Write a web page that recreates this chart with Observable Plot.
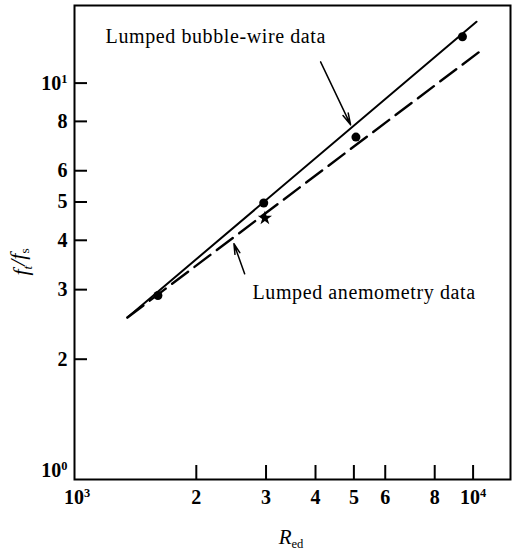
<!DOCTYPE html>
<html><head><meta charset="utf-8">
<script src="https://cdn.jsdelivr.net/npm/d3@7"></script>
<script src="https://cdn.jsdelivr.net/npm/@observablehq/plot@0.6"></script>
<style>body{margin:0;background:#fff}#chart svg{display:block}</style>
</head><body><div id="chart"></div>
<script>
// x ticks (R_ed) and labels
const xTickValues = [2000, 3000, 4000, 5000, 6000, 8000, 10000];
const xLabelValues = [1000, 2000, 3000, 4000, 5000, 6000, 8000, 10000];
const xLabelText = ["10^3", "2", "3", "4", "5", "6", "8", "10^4"];
// y ticks (f_t/f_s) and labels
const yTickValues = [2, 3, 4, 5, 6, 8, 10];
const yLabelValues = [2, 3, 4, 5, 6, 8, 10];
const yLabelText = ["2", "3", "4", "5", "6", "8", "10^1"];
const yBottomLabelValue = [1];
const yBottomLabelText = ["10^0"];

// fitted lines
const bubbleLineX = [1340, 10200];
const bubbleLineY = [2.55, 14.3];
const anemLineX = [1340, 10600];
const anemLineY = [2.55, 12.2];

// data points
const bubblePointX = [1600, 2960, 5060, 9400];
const bubblePointY = [2.9, 4.97, 7.3, 13.1];
const anemPointX = [2980];
const anemPointY = [4.55];

// annotations
const noteText = ["Lumped bubble-wire data", "Lumped anemometry data"];
const noteX = [1180, 2773];
const noteY = [13.1, 2.95];
const arrowX1 = [4120, 2649];
const arrowY1 = [11.32, 3.29];
const arrowX2 = [4906, 2489];
const arrowY2 = [7.84, 3.92];

const bubbleLine = bubbleLineX.map((x, i) => ({x, y: bubbleLineY[i]}));
const anemLine = anemLineX.map((x, i) => ({x, y: anemLineY[i]}));
const bubblePts = bubblePointX.map((x, i) => ({x, y: bubblePointY[i]}));
const anemPts = anemPointX.map((x, i) => ({x, y: anemPointY[i]}));
const notes = noteText.map((t, i) => ({t, x: noteX[i], y: noteY[i]}));
const arrows = arrowX1.map((x1, i) => ({x1, y1: arrowY1[i], x2: arrowX2[i], y2: arrowY2[i]}));

const W = 514, H = 552;
const mL = 74, mR = 4, mT = 5, mB = 73;
const pw = W - mL - mR, ph = H - mT - mB;

const serif = "'Liberation Serif', 'DejaVu Serif', serif";

const chart = Plot.plot({
  width: W, height: H,
  marginLeft: mL, marginRight: mR, marginTop: mT, marginBottom: mB,
  style: {fontFamily: serif, fontSize: "20px", color: "black", background: "white"},
  x: {type: "log", domain: [985, 12430], axis: null},
  y: {type: "log", domain: [0.992, 15.72], axis: null},
  marks: [
    Plot.frame({stroke: "black", strokeWidth: 2}),
    Plot.tickX(xTickValues, {x: d => d, stroke: "black", strokeWidth: 2, insetTop: ph - 14}),
    Plot.tickY(yTickValues, {y: d => d, stroke: "black", strokeWidth: 2, insetRight: pw - 13}),
    Plot.text(xLabelValues, {x: d => d, frameAnchor: "bottom", dy: 24, text: (d, i) => xLabelText[i],
      fontSize: 20, fontWeight: "bold", fill: "black"}),
    Plot.text(yLabelValues, {y: d => d, frameAnchor: "left", dx: -7, textAnchor: "end", text: (d, i) => yLabelText[i],
      fontSize: 20, fontWeight: "bold", fill: "black"}),
    Plot.text(yBottomLabelValue, {y: d => d, frameAnchor: "left", dx: -7, dy: -8, textAnchor: "end", text: (d, i) => yBottomLabelText[i],
      fontSize: 20, fontWeight: "bold", fill: "black"}),
    Plot.line(bubbleLine, {x: "x", y: "y", stroke: "black", strokeWidth: 2}),
    Plot.line(anemLine, {x: "x", y: "y", stroke: "black", strokeWidth: 2.4, strokeDasharray: "20,8"}),
    Plot.dot(bubblePts, {x: "x", y: "y", r: 4.5, fill: "black", stroke: "none"}),
    Plot.dot(anemPts, {x: "x", y: "y", r: 4.5, symbol: "star", fill: "black", stroke: "none"}),
    Plot.arrow(arrows, {x1: "x1", y1: "y1", x2: "x2", y2: "y2", stroke: "black", strokeWidth: 1.5, headLength: 12, headAngle: 28}),
    Plot.text(notes, {x: "x", y: "y", text: "t", textAnchor: "start", fontSize: 20, fill: "black"})
  ]
});

const svg = d3.select(chart);
// annotation letter spacing to match width of the original lettering
svg.selectAll("text").filter(function() { return this.textContent.startsWith("Lumped"); })
  .attr("letter-spacing", "0.6px");
// superscripts for powers of ten
svg.selectAll("text").each(function() {
  const t = this.textContent;
  if (t.includes("^")) {
    const [base, exp] = t.split("^");
    const el = d3.select(this);
    el.text(null);
    el.append("tspan").text(base);
    el.append("tspan").attr("dy", "-0.5em").attr("font-size", "0.62em").text(exp);
  }
});
// y axis label f_t / f_s
const yl = svg.append("text")
  .attr("transform", "translate(28," + 262 + ") rotate(-90)")
  .attr("text-anchor", "middle")
  .attr("font-family", serif).attr("font-style", "italic").attr("font-size", 22).attr("fill", "black");
yl.append("tspan").text("f");
yl.append("tspan").attr("dy", "0.3em").attr("font-size", "0.6em").text("t");
yl.append("tspan").attr("dy", "-0.3em").text("/");
yl.append("tspan").text("f");
yl.append("tspan").attr("dy", "0.3em").attr("font-size", "0.6em").attr("font-style","normal").text("s");
// x axis label R_ed
const xl = svg.append("text")
  .attr("x", 291).attr("y", 544)
  .attr("text-anchor", "middle")
  .attr("font-family", serif).attr("font-size", 21).attr("fill", "black");
xl.append("tspan").attr("font-style", "italic").text("R");
xl.append("tspan").attr("dy", "0.3em").attr("font-size", "0.6em").text("ed");

document.getElementById("chart").appendChild(chart);
</script>
</body></html>
